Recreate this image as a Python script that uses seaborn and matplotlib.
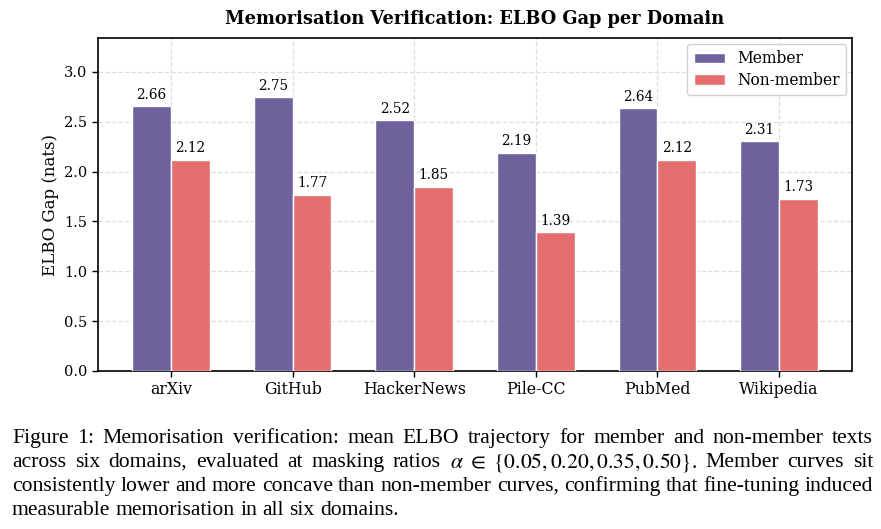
import re
import matplotlib
matplotlib.use("Agg")
import matplotlib.pyplot as plt
import seaborn as sns
import pandas as pd

domains = ["arXiv", "GitHub", "HackerNews", "Pile-CC", "PubMed", "Wikipedia"]
member = [2.66, 2.75, 2.52, 2.19, 2.64, 2.31]
non_member = [2.12, 1.77, 1.85, 1.39, 2.12, 1.73]
groups = ["Member", "Non-member"]
title = "Memorisation Verification: ELBO Gap per Domain"
ylabel = "ELBO Gap (nats)"
caption_lines = [
    "Figure 1: Memorisation verification: mean ELBO trajectory for member and non-member texts",
    r"across six domains, evaluated at masking ratios $\alpha\ \in\ \{0.05, 0.20, 0.35, 0.50\}$. Member curves sit",
    "consistently lower and more concave than non-member curves, confirming that fine-tuning induced",
    "measurable memorisation in all six domains.",
]

sns.set_theme(style="white")
plt.rcParams["font.family"] = ["DejaVu Serif"]
plt.rcParams["mathtext.fontset"] = "stix"
plt.rcParams["text.color"] = "black"
plt.rcParams["axes.labelcolor"] = "black"
plt.rcParams["xtick.color"] = "black"
plt.rcParams["ytick.color"] = "black"

df = pd.DataFrame({
    "Domain": domains * 2,
    "Gap": member + non_member,
    "Group": [groups[0]] * len(domains) + [groups[1]] * len(domains),
})

fig = plt.figure(figsize=(8.81, 5.29), dpi=100)
ax = fig.add_axes([98 / 881, 1 - 371 / 529, (852 - 98) / 881, (371 - 38) / 529])

palette = {"Member": "#6f619b", "Non-member": "#e56f6f"}
sns.barplot(data=df, x="Domain", y="Gap", hue="Group", palette=palette, saturation=1,
            width=0.64, edgecolor="white", linewidth=1.0, ax=ax, zorder=3)

for cont in ax.containers:
    ax.bar_label(cont, fmt="%.2f", padding=3, fontsize=9.8, color="black")

ax.set_xlim(-0.6, 5.6)
ax.set_ylim(0, 3.34)
yt = [0.0, 0.5, 1.0, 1.5, 2.0, 2.5, 3.0]
ax.set_yticks(yt)
ax.set_yticklabels([f"{v:.1f}" for v in yt])
ax.set_xlabel("")
ax.set_ylabel(ylabel, fontsize=12)
ax.set_title(title, fontsize=12.8, fontweight="bold", pad=10)
ax.tick_params(axis="both", length=4, width=1, direction="out", bottom=True, left=True)
ax.tick_params(axis="x", labelsize=11.3)
ax.tick_params(axis="y", labelsize=10.5)
ax.grid(True, linestyle="--", color="#dddddd", linewidth=0.9, zorder=0)
ax.set_axisbelow(True)
for s in ax.spines.values():
    s.set_color("black")
    s.set_linewidth(1.2)

leg = ax.legend(loc="upper right", fontsize=11.2, frameon=True, framealpha=0.9,
                edgecolor="#cccccc", fancybox=True, borderaxespad=0.4,
                labelspacing=0.3, borderpad=0.4)
leg.set_title(None)

# Justified caption
renderer = fig.canvas.get_renderer()
x0, x1 = 12, 873
cap_fs = 15.6
cap_font = ["Liberation Serif"]
probe2 = fig.text(0, 0, "a a", fontsize=cap_fs, family=cap_font)
probe1 = fig.text(0, 0, "aa", fontsize=cap_fs, family=cap_font)
sw = probe2.get_window_extent(renderer).width - probe1.get_window_extent(renderer).width
probe2.remove()
probe1.remove()
for i, line in enumerate(caption_lines):
    y = 1 - (443 + 24 * i) / 529
    tokens = re.findall(r"\S*\$[^$]*\$\S*|\S+", line)
    texts = [fig.text(0, y, t, fontsize=cap_fs, family=cap_font,
                      va="baseline", ha="left") for t in tokens]
    widths = [t.get_window_extent(renderer).width for t in texts]
    if i < len(caption_lines) - 1 and len(tokens) > 1:
        gap = (x1 - x0 - sum(widths)) / (len(tokens) - 1)
    else:
        gap = sw
    x = x0
    for t, w in zip(texts, widths):
        t.set_x(x / 881)
        x += w + gap

fig.savefig("out.png", dpi=100)
